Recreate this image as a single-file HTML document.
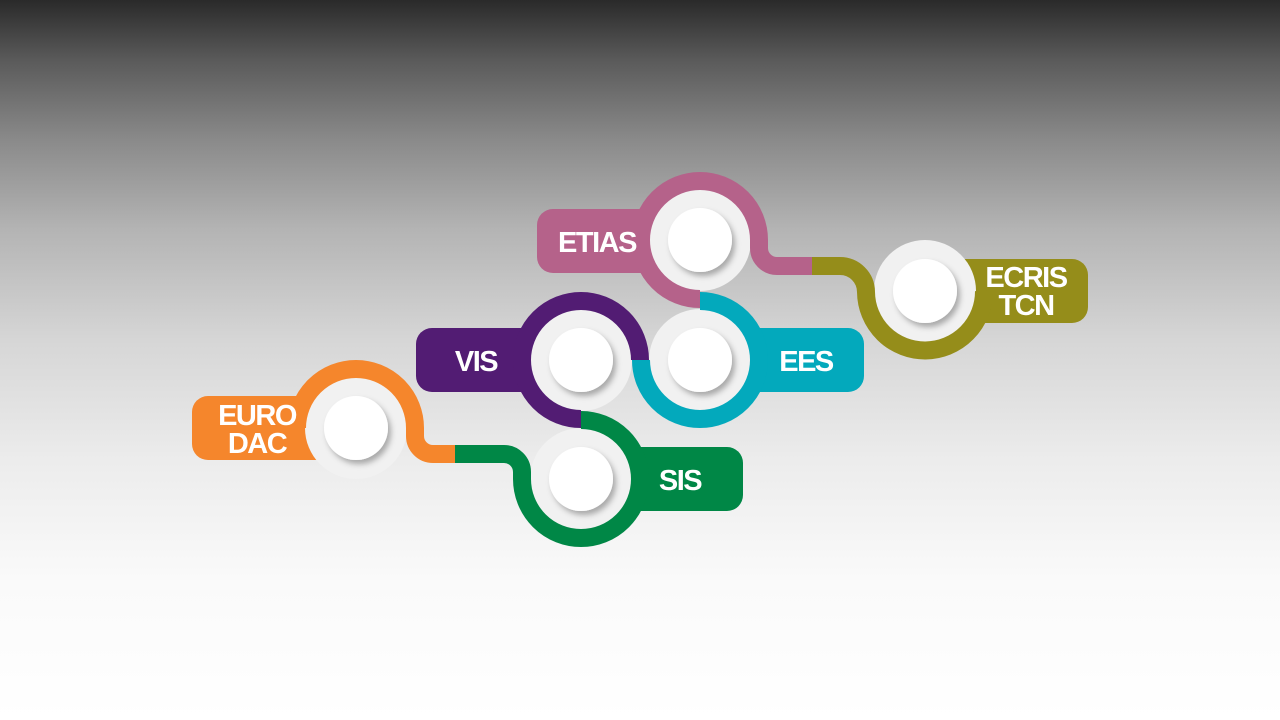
<!DOCTYPE html>
<html><head><meta charset="utf-8"><style>
html,body{margin:0;padding:0;width:1280px;height:720px;overflow:hidden}
body{background:linear-gradient(180deg,#2a2a2a 0px,#5a5a5a 60px,#8a8a8a 140px,#b4b4b4 230px,#d6d6d6 340px,#ececec 460px,#fafafa 580px,#ffffff 720px)}
svg{position:absolute;left:0;top:0}
text{font-family:"Liberation Sans",sans-serif;font-weight:bold;fill:#fff;font-size:29px;letter-spacing:-1.5px}
</style></head><body>
<svg width="1280" height="720" viewBox="0 0 1280 720">
<defs>
<filter id="sh" x="-30%" y="-30%" width="160%" height="160%"><feDropShadow dx="3" dy="4" stdDeviation="3" flood-color="#000" flood-opacity="0.3"/></filter>
</defs>
<path d="M553 209 H685 V273 H553 A16 16 0 0 1 537 257 V225 A16 16 0 0 1 553 209Z" fill="#b5628a"/>
<path d="M945 259 H1072 A16 16 0 0 1 1088 275 V307 A16 16 0 0 1 1072 323 H945Z" fill="#958d1a"/>
<path d="M432 328 H565 V392 H432 A16 16 0 0 1 416 376 V344 A16 16 0 0 1 432 328Z" fill="#521c73"/>
<path d="M715 328 H848 A16 16 0 0 1 864 344 V376 A16 16 0 0 1 848 392 H715Z" fill="#03a9bc"/>
<path d="M208 396 H335 V460 H208 A16 16 0 0 1 192 444 V412 A16 16 0 0 1 208 396Z" fill="#f5862c"/>
<path d="M596 447 H727 A16 16 0 0 1 743 463 V495 A16 16 0 0 1 727 511 H596Z" fill="#008746"/>
<g fill="#f1f1f1">
<circle cx="700" cy="240" r="51"/><circle cx="925" cy="291" r="51"/>
<circle cx="581" cy="360" r="51"/><circle cx="700" cy="360" r="51"/>
<circle cx="356" cy="428" r="51"/><circle cx="581" cy="479" r="51"/>
</g>
<g fill="none" stroke-width="18">
<path d="M700 299 A59 59 0 1 1 759 240 L759 248 A18 18 0 0 0 777 266 L812 266" stroke="#b5628a"/>
<path d="M812 266 L840 266 A26 26 0 0 1 866 292 A59 59 0 0 0 984 291" stroke="#958d1a"/>
<path d="M700 301 A59 59 0 1 1 641 360" stroke="#03a9bc"/>
<path d="M581 419 A59 59 0 1 1 640 360" stroke="#521c73"/>
<path d="M581 420 A59 59 0 1 1 522 479 L522 472 A18 18 0 0 0 504 454 L454 454" stroke="#008746"/>
<path d="M297 428 A59 59 0 1 1 415 428 L415 436 A18 18 0 0 0 433 454 L455 454" stroke="#f5862c"/>
</g>
<g fill="#fff" filter="url(#sh)">
<circle cx="700" cy="240" r="32"/><circle cx="925" cy="291" r="32"/>
<circle cx="581" cy="360" r="32"/><circle cx="700" cy="360" r="32"/>
<circle cx="356" cy="428" r="32"/><circle cx="581" cy="479" r="32"/>
</g>
<text x="597" y="252" text-anchor="middle">ETIAS</text>
<text x="1026" y="287" text-anchor="middle">ECRIS</text>
<text x="1026" y="315" text-anchor="middle">TCN</text>
<text x="476" y="371" text-anchor="middle">VIS</text>
<text x="806" y="371" text-anchor="middle">EES</text>
<text x="257" y="425" text-anchor="middle">EURO</text>
<text x="257" y="453" text-anchor="middle">DAC</text>
<text x="680" y="490" text-anchor="middle">SIS</text>
</svg>
</body></html>
